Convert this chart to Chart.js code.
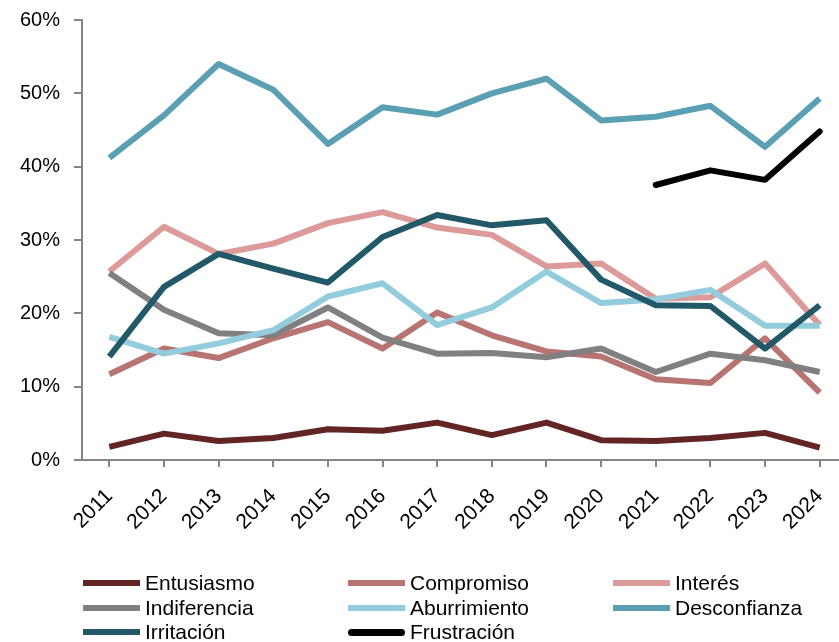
<!DOCTYPE html>
<html>
<head>
<meta charset="utf-8">
<script src="https://cdn.jsdelivr.net/npm/chart.js@4.4.1/dist/chart.umd.min.js"></script>
<style>
  html, body { margin: 0; padding: 0; background: #fff; overflow: hidden; }
  #wrap { position: relative; width: 839px; height: 642px; overflow: hidden; }
  #c { position: absolute; left: 0; top: 0; }
  #legend { position: absolute; left: 83px; top: 571px; display: grid;
    grid-template-columns: 265px 265px 200px; grid-auto-rows: 24.5px;
    font-family: "Liberation Sans", Arial, sans-serif; font-size: 21px; color: #000; }
  .item { display: flex; align-items: center; white-space: nowrap; }
  .sw { width: 57px; height: 6px; margin-right: 5px; flex: none; }
</style>
</head>
<body>
<div id="wrap">
  <canvas id="c" width="870" height="642"></canvas>
  <div id="legend"></div>
</div>
<script>
const years = ["2011","2012","2013","2014","2015","2016","2017","2018","2019","2020","2021","2022","2023","2024"];
const yTickValues = [0, 10, 20, 30, 40, 50, 60];

const entusiasmo   = [1.8, 3.6, 2.6, 3.0, 4.2, 4.0, 5.1, 3.4, 5.1, 2.7, 2.6, 3.0, 3.7, 1.7];
const compromiso   = [11.7, 15.2, 13.9, 16.6, 18.8, 15.2, 20.1, 17.0, 14.8, 14.1, 11.0, 10.5, 16.6, 9.2];
const interes      = [25.7, 31.8, 28.1, 29.5, 32.3, 33.8, 31.7, 30.7, 26.4, 26.8, 22.0, 22.2, 26.8, 18.4];
const indiferencia = [25.5, 20.5, 17.3, 17.0, 20.8, 16.7, 14.5, 14.6, 14.0, 15.2, 12.0, 14.5, 13.6, 12.0];
const aburrimiento = [16.8, 14.5, 15.9, 17.7, 22.3, 24.1, 18.4, 20.8, 25.7, 21.4, 21.9, 23.2, 18.3, 18.3];
const desconfianza = [41.2, 47.0, 54.0, 50.5, 43.1, 48.1, 47.1, 50.0, 52.0, 46.3, 46.8, 48.3, 42.7, 49.3];
const irritacion   = [14.1, 23.6, 28.1, 26.1, 24.2, 30.4, 33.4, 32.0, 32.7, 24.6, 21.1, 21.0, 15.2, 21.1];
const frustracion  = [null, null, null, null, null, null, null, null, null, null, 37.5, 39.5, 38.2, 44.8];

const seriesNames  = ["Entusiasmo","Compromiso","Interés","Indiferencia","Aburrimiento","Desconfianza","Irritación","Frustración"];
const seriesData   = [entusiasmo, compromiso, interes, indiferencia, aburrimiento, desconfianza, irritacion, frustracion];
const seriesColors = ["#632523","#b77471","#dc9a98","#808080","#93cddd","#5b9fb4","#215968","#000000"];

const n = seriesNames.length;
const datasets = seriesNames.map((name, i) => ({
  label: name,
  data: seriesData[i],
  borderColor: seriesColors[i],
  backgroundColor: seriesColors[i],
  borderWidth: 6,
  pointRadius: 0,
  pointHoverRadius: 0,
  tension: 0,
  fill: false,
  spanGaps: false,
  borderJoinStyle: 'round',
  borderCapStyle: i === n - 1 ? 'round' : 'butt',
  order: n - i
}));

const axisColor = "#868686";
new Chart(document.getElementById('c'), {
  type: 'line',
  data: { labels: years, datasets },
  options: {
    responsive: false,
    animation: false,
    layout: { padding: { left: 0, right: 23, top: 20, bottom: 0 } },
    plugins: { legend: { display: false }, tooltip: { enabled: false } },
    scales: {
      x: {
        type: 'category',
        offset: true,
        afterFit: s => { s.height = 182; s.paddingLeft = 0; s.paddingRight = 0; },
        grid: { display: true, drawOnChartArea: false, drawTicks: true, tickLength: 7, color: axisColor, lineWidth: 2, offset: false },
        border: { display: true, color: axisColor, width: 2 },
        ticks: { color: '#000', font: { family: 'Liberation Sans', size: 21 }, maxRotation: 45, minRotation: 45, padding: 17, autoSkip: false }
      },
      y: {
        min: 0, max: 60,
        afterFit: s => { s.width = 82; s.paddingTop = 0; s.paddingBottom = 0; },
        afterBuildTicks: s => { s.ticks = yTickValues.map(v => ({ value: v })); },
        grid: { display: true, drawOnChartArea: false, drawTicks: true, tickLength: 8, color: axisColor, lineWidth: 2 },
        border: { display: true, color: axisColor, width: 2 },
        ticks: { color: '#000', font: { family: 'Liberation Sans', size: 20 }, padding: 14, callback: v => v + '%' }
      }
    }
  }
});

const leg = document.getElementById('legend');
seriesNames.forEach((name, i) => {
  const it = document.createElement('div');
  it.className = 'item';
  const sw = document.createElement('span');
  sw.className = 'sw';
  sw.style.background = seriesColors[i];
  if (i === n - 1) { sw.style.borderRadius = '4px'; sw.style.height = '7px'; }
  const tx = document.createElement('span');
  tx.textContent = name;
  it.appendChild(sw); it.appendChild(tx);
  leg.appendChild(it);
});
</script>
</body>
</html>
